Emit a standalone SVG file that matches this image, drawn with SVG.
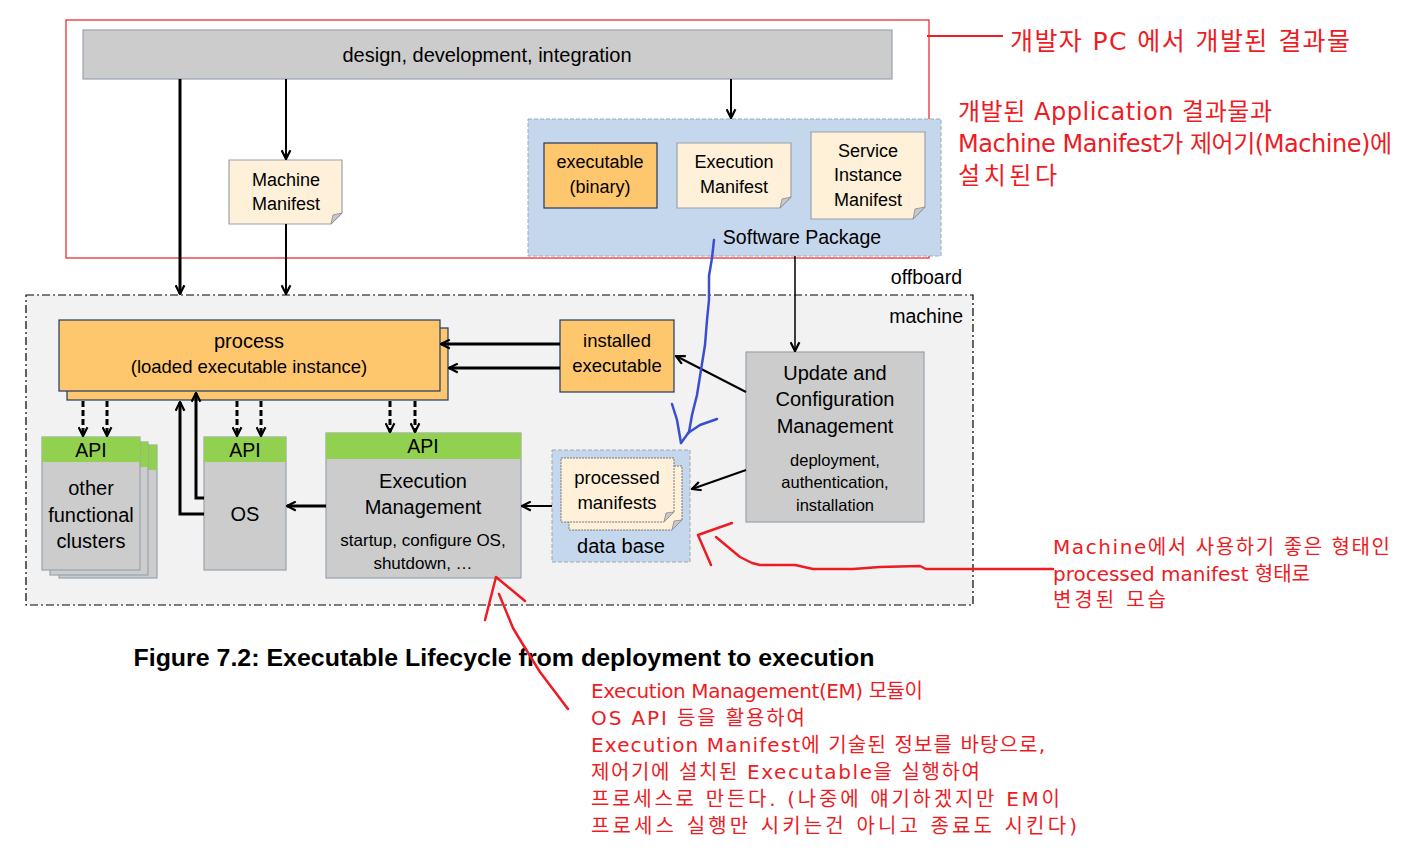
<svg xmlns="http://www.w3.org/2000/svg" width="1405" height="857" viewBox="0 0 1405 857">
<style>
.t{font-family:"Liberation Sans",Arial,sans-serif;fill:#000;text-anchor:middle;dominant-baseline:central}
.r{font-family:"DejaVu Sans","Noto Sans CJK KR",sans-serif;fill:#ed1c24}
.gray{fill:#cccccc;stroke:#98a2ad;stroke-width:1.2}
.orange{fill:#fec76e;stroke:#1f3864;stroke-width:1.2}
.doc{fill:#fff0d9;stroke:#98a2ad;stroke-width:1.2}
.api{fill:#92d050}
.pkg{fill:#c5d7ec;stroke:#a0a8b0;stroke-width:1;stroke-dasharray:4 2}
.fold{fill:#c8c8c8;stroke:#8a8a8a;stroke-width:0.8}
.c{stroke:#000;fill:none;marker-end:url(#arr)}
.d{stroke:#000;fill:none;stroke-width:3;stroke-dasharray:6 3;marker-end:url(#arr)}
.hand{fill:none;stroke-linecap:round;stroke-linejoin:round;stroke-width:2.5}
</style>
<defs>
<marker id="arr" viewBox="0 0 10 10" refX="9" refY="5" markerWidth="11" markerHeight="11" markerUnits="userSpaceOnUse" orient="auto">
<path d="M1,1 L9,5 L1,9" fill="none" stroke="#000" stroke-width="2" stroke-dasharray="none"/>
</marker>
</defs>
<rect width="1405" height="857" fill="#fff"/>

<!-- machine area -->
<g id="machine">
<rect x="26" y="295" width="947" height="310" fill="#f2f2f2" stroke="#000" stroke-width="1.2" stroke-dasharray="8 3 2 3"/>
<text class="t" x="963" y="316" style="text-anchor:end;font-size:19.5px">machine</text>
</g>
<text class="t" x="962" y="277" style="text-anchor:end;font-size:19.5px">offboard</text>

<!-- offboard red frame -->
<rect x="66" y="20" width="863" height="238" fill="none" stroke="#ed1c24" stroke-width="1.2"/>

<g id="design">
<rect class="gray" x="83" y="30" width="809" height="49"/>
<text class="t" x="487" y="55" style="font-size:20px">design, development, integration</text>
</g>

<g id="machine-manifest">
<path class="doc" d="M229,160 H342 V213 L331,224 H229 Z"/>
<path class="fold" d="M342,213 L331,224 L333,215 Z"/>
<text class="t" x="286" y="180" style="font-size:18px">Machine</text>
<text class="t" x="286" y="204" style="font-size:18px">Manifest</text>
</g>

<g id="software-package">
<rect class="pkg" x="528" y="119" width="413" height="137"/>
<text class="t" x="802" y="237" style="font-size:19.5px">Software Package</text>
</g>

<g id="executable-binary">
<rect class="orange" x="544" y="143" width="113" height="65"/>
<text class="t" x="600" y="162" style="font-size:18px">executable</text>
<text class="t" x="600" y="187" style="font-size:18px">(binary)</text>
</g>

<g id="execution-manifest">
<path class="doc" d="M677,143 H791 V197 L780,208 H677 Z"/>
<path class="fold" d="M791,197 L780,208 L782,199 Z"/>
<text class="t" x="734" y="162" style="font-size:18px">Execution</text>
<text class="t" x="734" y="187" style="font-size:18px">Manifest</text>
</g>

<g id="service-instance-manifest">
<path class="doc" d="M811,132 H925 V207 L913,219 H811 Z"/>
<path class="fold" d="M925,207 L913,219 L915,209 Z"/>
<text class="t" x="868" y="151" style="font-size:18px">Service</text>
<text class="t" x="868" y="175" style="font-size:18px">Instance</text>
<text class="t" x="868" y="200" style="font-size:18px">Manifest</text>
</g>

<g id="process">
<rect class="orange" x="67" y="328" width="381" height="72"/>
<rect class="orange" x="59" y="320" width="381" height="71"/>
<text class="t" x="249" y="341" style="font-size:20px">process</text>
<text class="t" x="249" y="366" style="font-size:18.5px">(loaded executable instance)</text>
</g>

<g id="installed-executable">
<rect class="orange" x="560" y="320" width="114" height="72"/>
<text class="t" x="617" y="340" style="font-size:18.5px">installed</text>
<text class="t" x="617" y="365" style="font-size:18.5px">executable</text>
</g>

<g id="ucm">
<rect class="gray" x="746" y="352" width="178" height="170"/>
<text class="t" x="835" y="373" style="font-size:20px">Update and</text>
<text class="t" x="835" y="399" style="font-size:20px">Configuration</text>
<text class="t" x="835" y="426" style="font-size:20px">Management</text>
<text class="t" x="835" y="460" style="font-size:16.5px">deployment,</text>
<text class="t" x="835" y="482" style="font-size:16.5px">authentication,</text>
<text class="t" x="835" y="505" style="font-size:16.5px">installation</text>
</g>

<g id="data-base">
<rect class="pkg" x="552" y="450" width="138" height="112"/>
<path d="M569,466 H682 V520 L672,530 H569 Z" fill="#fff0d9" stroke="#777" stroke-width="1" stroke-dasharray="2 1"/>
<path class="fold" d="M682,520 L672,530 L674,521 Z"/>
<path d="M561,458 H674 V512 L664,522 H561 Z" fill="#fff0d9" stroke="#777" stroke-width="1" stroke-dasharray="2 1"/>
<path class="fold" d="M674,512 L664,522 L666,513 Z"/>
<text class="t" x="617" y="477" style="font-size:18.5px">processed</text>
<text class="t" x="617" y="502" style="font-size:18.5px">manifests</text>
<text class="t" x="621" y="546" style="font-size:20px">data base</text>
</g>

<g id="execution-management">
<rect class="gray" x="326" y="433" width="195" height="145"/>
<rect class="api" x="326" y="433" width="195" height="26"/>
<text class="t" x="423" y="446" style="font-size:19.5px">API</text>
<text class="t" x="423" y="481" style="font-size:20px">Execution</text>
<text class="t" x="423" y="507" style="font-size:20px">Management</text>
<text class="t" x="423" y="540" style="font-size:17px">startup, configure OS,</text>
<text class="t" x="423" y="563" style="font-size:17px">shutdown, …</text>
</g>

<g id="os">
<rect class="gray" x="204" y="437" width="82" height="133"/>
<rect class="api" x="204" y="437" width="82" height="25"/>
<text class="t" x="245" y="450" style="font-size:19.5px">API</text>
<text class="t" x="245" y="514" style="font-size:20px">OS</text>
</g>

<g id="other-functional-clusters">
<rect class="gray" x="59" y="445" width="98" height="133"/>
<rect class="api" x="59" y="445" width="98" height="25"/>
<rect class="gray" x="50" y="442" width="98" height="133"/>
<rect class="api" x="50" y="442" width="98" height="25"/>
<rect class="gray" x="42" y="437" width="98" height="133"/>
<rect class="api" x="42" y="437" width="98" height="25"/>
<text class="t" x="91" y="450" style="font-size:19.5px">API</text>
<text class="t" x="91" y="488" style="font-size:20px">other</text>
<text class="t" x="91" y="515" style="font-size:20px">functional</text>
<text class="t" x="91" y="541" style="font-size:20px">clusters</text>
</g>

<g id="connectors">
<path class="c" stroke-width="3" d="M180,79 V294"/>
<path class="c" stroke-width="2" d="M286,79 V159"/>
<path class="c" stroke-width="2" d="M286,224 V294"/>
<path class="c" stroke-width="2" d="M731,79 V118"/>
<path class="c" stroke-width="1.5" d="M795,256 V351"/>
<path class="c" stroke-width="3" d="M560,344 H441"/>
<path class="c" stroke-width="3" d="M560,368 H449"/>
<path class="c" stroke-width="2" d="M746,392 L676,356"/>
<path class="c" stroke-width="2" d="M746,470 L692,489"/>
<path class="c" stroke-width="2" d="M552,506 H522"/>
<path class="c" stroke-width="3" d="M326,506 H287"/>
<path class="c" stroke-width="3" d="M204,514 H180 V402"/>
<path class="c" stroke-width="3" d="M204,498 H196 V393"/>
<path class="d" d="M83,401 V436"/>
<path class="d" d="M107,401 V436"/>
<path class="d" d="M237,401 V436"/>
<path class="d" d="M261,401 V436"/>
<path class="d" d="M390,401 V432"/>
<path class="d" d="M415,401 V432"/>
</g>

<text x="504" y="666" style="font-family:'Liberation Sans',Arial,sans-serif;font-weight:bold;font-size:24px;text-anchor:middle" textLength="741" lengthAdjust="spacingAndGlyphs">Figure 7.2: Executable Lifecycle from deployment to execution</text>

<!-- hand annotations -->
<g id="annotations">
<path class="hand" stroke="#3a4fd0" d="M714,240 L712,258 L709,276 L709,300 L707,320 L705,345 L701,370 L697,395 L692,415 L689,432 L681,443"/>
<path class="hand" stroke="#3a4fd0" d="M672,404 L677,420 L681,443 M688,433 L700,425 L717,419"/>
<path class="hand" stroke="#ed1c24" d="M711,565 L698,535 L732,523"/>
<path class="hand" stroke="#ed1c24" d="M716,537 L740,557 L752,563 L760,565 L795,565 L813,569 L853,569 L880,567 L920,566 L926,569 L1053,569"/>
<path class="hand" stroke="#ed1c24" d="M485,620 L496,577 L525,601"/>
<path class="hand" stroke="#ed1c24" d="M499,594 L513,628 L522,643 L540,672 L568,709"/>
<path stroke="#ed1c24" stroke-width="2" d="M927,36 H1003"/>
<text class="r" x="1010" y="50" style="font-size:25px" textLength="340" lengthAdjust="spacing">개발자 PC 에서 개발된 결과물</text>
<text class="r" x="958" y="120" style="font-size:24px" textLength="314" lengthAdjust="spacing">개발된 Application 결과물과</text>
<text class="r" x="958" y="152" style="font-size:24px" textLength="434" lengthAdjust="spacing">Machine Manifest가 제어기(Machine)에</text>
<text class="r" x="958" y="184" style="font-size:24px" textLength="99" lengthAdjust="spacing">설치된다</text>
<text class="r" x="1053" y="554" style="font-size:20px" textLength="337" lengthAdjust="spacing">Machine에서 사용하기 좋은 형태인</text>
<text class="r" x="1053" y="581" style="font-size:20px" textLength="257" lengthAdjust="spacing">processed manifest 형태로</text>
<text class="r" x="1053" y="607" style="font-size:20px" textLength="113" lengthAdjust="spacing">변경된 모습</text>
<text class="r" x="591" y="698" style="font-size:20px" textLength="332" lengthAdjust="spacing">Execution Management(EM) 모듈이</text>
<text class="r" x="591" y="725" style="font-size:20px" textLength="214" lengthAdjust="spacing">OS API 등을 활용하여</text>
<text class="r" x="591" y="752" style="font-size:20px" textLength="454" lengthAdjust="spacing">Execution Manifest에 기술된 정보를 바탕으로,</text>
<text class="r" x="591" y="779" style="font-size:20px" textLength="389" lengthAdjust="spacing">제어기에 설치된 Executable을 실행하여</text>
<text class="r" x="591" y="806" style="font-size:20px" textLength="469" lengthAdjust="spacing">프로세스로 만든다. (나중에 얘기하겠지만 EM이</text>
<text class="r" x="591" y="833" style="font-size:20px" textLength="486" lengthAdjust="spacing">프로세스 실행만 시키는건 아니고 종료도 시킨다)</text>
</g>
</svg>
